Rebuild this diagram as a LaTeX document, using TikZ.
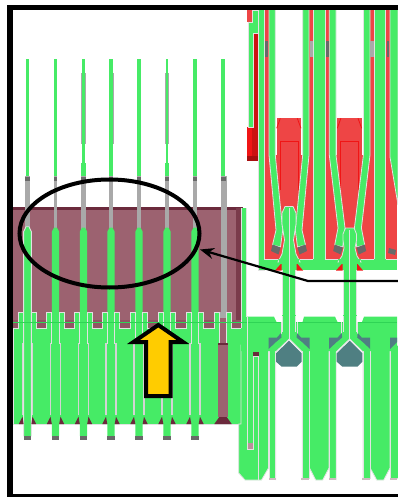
\documentclass[tikz,border=0pt]{standalone}
\usepackage{xcolor}
\usetikzlibrary{arrows.meta}
\definecolor{pingreen}{HTML}{46EB66}
\definecolor{darkgreen}{HTML}{2FD455}
\definecolor{moldmaroon}{HTML}{9C6270}
\definecolor{darkmaroon}{HTML}{6B2A3C}
\definecolor{redzone}{HTML}{EE4545}
\definecolor{redline}{HTML}{F01515}
\definecolor{headteal}{HTML}{4F7F82}
\definecolor{slotgray}{HTML}{E2E2E2}
\definecolor{pingray}{HTML}{A9A9A9}
\definecolor{tipgray}{HTML}{696969}
\definecolor{goldarrow}{HTML}{FFCC00}
\tikzset{
	green part/.style={fill=pingreen},
	outlined part/.style={fill=pingreen,draw=slotgray,line width=0.8pt},
	slot line/.style={draw=slotgray,line width=0.9pt},
	soft slot/.style={draw=slotgray!85!gray,line width=1.2pt},
	gray part/.style={fill=pingray},
	tip part/.style={fill=tipgray},
	dark part/.style={fill=darkmaroon},
	red part/.style={fill=redzone},
	red mark/.style={draw=redline,line width=0.8pt},
	teal part/.style={fill=headteal},
	thick ring/.style={draw=black,line width=4pt},
	callout line/.style={draw=black,line width=2.2pt,->,>={Stealth[length=14pt,width=11pt]}},
	up arrow/.style={fill=goldarrow,draw=black,line width=4pt,miter limit=10},
	frame line/.style={draw=black,line width=5.2pt}
}
\begin{document}
\begin{tikzpicture}[x=1pt,y=-1pt]
	\useasboundingbox (0,0) rectangle (397,497) ;
	% mold block
	\fill[moldmaroon] (13,207) rectangle (241,330) ;
	\fill[darkmaroon] (13,207) rectangle (243,210) ;
	\fill[darkmaroon!70!moldmaroon] (235.5,208) rectangle (241,320) ;
	\fill[darkmaroon!25!moldmaroon] (13,320) rectangle (241,330) ;
	% thin upper pins
	\fill[green part] (26.3,59) rectangle (28.7,176) ;
	\fill[green part] (53.6,59) rectangle (57.2,176) ;
	\fill[gray part] (81.2,73) rectangle (85.6,144) ;
	\fill[green part] (82,59) rectangle (84.6,176) ;
	\fill[green part] (81,163) rectangle (85.6,176) ;
	\fill[gray part] (112.8,73) rectangle (114,144) ;
	\fill[green part] (109.2,59) rectangle (112.8,176) ;
	\fill[green part] (109,163) rectangle (113.4,176) ;
	\fill[green part] (137.2,59) rectangle (140.8,176) ;
	\fill[gray part] (164.8,73) rectangle (169.2,144) ;
	\fill[green part] (165.6,59) rectangle (168.2,176) ;
	\fill[green part] (164.6,163) rectangle (169.2,176) ;
	\fill[green part] (193.2,59) rectangle (196.8,176) ;
	\fill[green part] (221.2,59) rectangle (225,176) ;
	% gray stems
	\fill[gray part] (25.3,176) rectangle (30,232) ;
	\fill[gray part] (53.6,176) rectangle (57.2,232) ;
	\fill[gray part] (81.2,176) rectangle (85.6,232) ;
	\fill[gray part] (109,176) rectangle (113.4,232) ;
	\fill[gray part] (137.2,176) rectangle (140.8,232) ;
	\fill[gray part] (164.8,176) rectangle (169.2,232) ;
	\fill[gray part] (193.2,176) rectangle (196.8,232) ;
	\fill[gray part] (220.5,176) rectangle (226.7,312) ;
	\fill[tip part] (25.3,176.5) rectangle (30,181) ;
	\fill[tip part] (53.6,176.5) rectangle (57.2,181) ;
	\fill[tip part] (81.2,176.5) rectangle (85.6,181) ;
	\fill[tip part] (109,176.5) rectangle (113.4,181) ;
	\fill[tip part] (137.2,176.5) rectangle (140.8,181) ;
	\fill[tip part] (164.8,176.5) rectangle (169.2,181) ;
	\fill[tip part] (193.2,176.5) rectangle (196.8,181) ;
	\fill[tip part] (220.5,176.5) rectangle (225.5,181) ;
	% toothed block
	\draw[outlined part] (13,328) -- (18.8,328) -- (18.8,312) -- (23.8,312) -- (23.8,322) -- (31.2,322) -- (31.2,312) -- (36.2,312) -- (36.2,328)
		-- (46.8,328) -- (46.8,312) -- (51.8,312) -- (51.8,322) -- (59.2,322) -- (59.2,312) -- (64.2,312) -- (64.2,328)
		-- (74.8,328) -- (74.8,312) -- (79.8,312) -- (79.8,322) -- (87.2,322) -- (87.2,312) -- (92.2,312) -- (92.2,328)
		-- (102.3,328) -- (102.3,312) -- (107.3,312) -- (107.3,322) -- (114.7,322) -- (114.7,312) -- (119.7,312) -- (119.7,328)
		-- (130.3,328) -- (130.3,312) -- (135.3,312) -- (135.3,322) -- (142.7,322) -- (142.7,312) -- (147.7,312) -- (147.7,328)
		-- (158.3,328) -- (158.3,312) -- (163.3,312) -- (163.3,322) -- (170.7,322) -- (170.7,312) -- (175.7,312) -- (175.7,328)
		-- (186.3,328) -- (186.3,312) -- (191.3,312) -- (191.3,322) -- (198.7,322) -- (198.7,312) -- (203.7,312) -- (203.7,328)
		-- (214.3,328) -- (214.3,312) -- (219.3,312) -- (219.3,322) -- (226.7,322) -- (226.7,312) -- (231.7,312) -- (231.7,328)
		-- (241,328) -- (241,424) -- (13,424) -- cycle ;
	\fill[white] (12,424.5) rectangle (238,426) ;
	% green pins
	\fill[green part] (23.6,231.7) -- (26,226.7) -- (29,226.7) -- (31.4,231.7) -- (31.4,436) -- (23.6,436) -- cycle ;
	\draw[slot line] (23.6,436) -- (23.6,231.7) -- (26,226.7) -- (29,226.7) -- (31.4,231.7) -- (31.4,436) ;
	\fill[green part] (51.8,231.7) -- (54,227.7) -- (57,227.7) -- (59.2,231.7) -- (59.2,436) -- (51.8,436) -- cycle ;
	\fill[green part] (79.8,231.7) -- (82,227.7) -- (85,227.7) -- (87.2,231.7) -- (87.2,436) -- (79.8,436) -- cycle ;
	\fill[green part] (107.3,231.7) -- (109.5,227.7) -- (112.5,227.7) -- (114.7,231.7) -- (114.7,436) -- (107.3,436) -- cycle ;
	\fill[green part] (135.3,231.7) -- (137.5,227.7) -- (140.5,227.7) -- (142.7,231.7) -- (142.7,436) -- (135.3,436) -- cycle ;
	\fill[green part] (163.3,231.7) -- (165.5,227.7) -- (168.5,227.7) -- (170.7,231.7) -- (170.7,436) -- (163.3,436) -- cycle ;
	\fill[green part] (191.3,231.7) -- (193.5,227.7) -- (196.5,227.7) -- (198.7,231.7) -- (198.7,436) -- (191.3,436) -- cycle ;
	% pin tips
	\fill[tip part] (24,436) rectangle (30.7,440) ;
	\fill[tip part] (51.8,436) rectangle (59.2,440) ;
	\fill[tip part] (79.8,436) rectangle (87.2,440) ;
	\fill[tip part] (107.3,436) rectangle (114.7,440) ;
	\fill[tip part] (135.3,436) rectangle (142.7,440) ;
	\fill[tip part] (163.3,436) rectangle (170.7,440) ;
	\fill[tip part] (191.3,436) rectangle (198.7,440) ;
	% slots around the pins
	\draw[slot line] (51.8,312) -- (51.8,343) -- (50.5,343) ; \draw[slot line] (59.2,312) -- (59.2,343) -- (60.5,343) ;
	\draw[slot line] (79.8,312) -- (79.8,343) -- (78.5,343) ; \draw[slot line] (87.2,312) -- (87.2,343) -- (88.5,343) ;
	\draw[slot line] (107.3,312) -- (107.3,343) -- (106,343) ; \draw[slot line] (114.7,312) -- (114.7,343) -- (116,343) ;
	\draw[slot line] (135.3,312) -- (135.3,343) -- (134,343) ; \draw[slot line] (142.7,312) -- (142.7,343) -- (144,343) ;
	\draw[slot line] (163.3,312) -- (163.3,343) -- (162,343) ; \draw[slot line] (170.7,312) -- (170.7,343) -- (172,343) ;
	\draw[slot line] (191.3,312) -- (191.3,343) -- (190,343) ; \draw[slot line] (198.7,312) -- (198.7,343) -- (200,343) ;
	\draw[soft slot] (22.5,343) -- (22.5,415) ; \draw[soft slot] (32.5,343) -- (32.5,415) ;
	\draw[soft slot] (50.5,343) -- (50.5,415) ; \draw[soft slot] (60.5,343) -- (60.5,415) ;
	\draw[soft slot] (78.5,343) -- (78.5,415) ; \draw[soft slot] (88.5,343) -- (88.5,415) ;
	\draw[soft slot] (106,343) -- (106,415) ; \draw[soft slot] (116,343) -- (116,415) ;
	\draw[soft slot] (134,343) -- (134,415) ; \draw[soft slot] (144,343) -- (144,415) ;
	\draw[soft slot] (162,343) -- (162,415) ; \draw[soft slot] (172,343) -- (172,415) ;
	\draw[soft slot] (190,343) -- (190,415) ; \draw[soft slot] (200,343) -- (200,415) ;
	% small dark feet
	\fill[dark part] (18.8,424) -- (22.5,416.5) -- (23.6,424) -- cycle ; \fill[dark part] (31.4,424) -- (32.5,416.5) -- (36.2,424) -- cycle ;
	\fill[dark part] (46.8,424) -- (50.5,416.5) -- (51.8,424) -- cycle ; \fill[dark part] (59.2,424) -- (60.5,416.5) -- (64.2,424) -- cycle ;
	\fill[dark part] (74.8,424) -- (78.5,416.5) -- (79.8,424) -- cycle ; \fill[dark part] (87.2,424) -- (88.5,416.5) -- (92.2,424) -- cycle ;
	\fill[dark part] (102.3,424) -- (106,416.5) -- (107.3,424) -- cycle ; \fill[dark part] (114.7,424) -- (116,416.5) -- (119.7,424) -- cycle ;
	\fill[dark part] (130.3,424) -- (134,416.5) -- (135.3,424) -- cycle ; \fill[dark part] (142.7,424) -- (144,416.5) -- (147.7,424) -- cycle ;
	\fill[dark part] (158.3,424) -- (162,416.5) -- (163.3,424) -- cycle ; \fill[dark part] (170.7,424) -- (172,416.5) -- (175.7,424) -- cycle ;
	\fill[dark part] (186.3,424) -- (190,416.5) -- (191.3,424) -- cycle ; \fill[dark part] (198.7,424) -- (200,416.5) -- (203.7,424) -- cycle ;
	% last pin, still in the mold colour
	\fill[moldmaroon] (219.3,312) rectangle (226.7,343) ;
	\fill[gray part] (219.3,312) rectangle (226.7,318) ;
	\fill[moldmaroon] (218,343) rectangle (228,417) ;
	\fill[dark part] (218,343) rectangle (228,345) ;
	\fill[dark part] (219.3,417) -- (226.7,417) -- (231.7,424) -- (214.3,424) -- cycle ;
	\draw[slot line] (219.3,312) -- (219.3,343) ; \draw[slot line] (226.7,312) -- (226.7,343) ;
	\draw[darkgreen,line width=1.2pt] (13,322.7) -- (397,322.7) ;
	% upper right: strip beside the red column
	\fill[red part] (247,10) rectangle (252.3,22) ;
	\fill[redline] (247,127) rectangle (258.3,161) ;
	\fill[redline!85!black] (252.3,127) rectangle (258.3,161) ;
	\fill[redline!70!black] (247,156) rectangle (258.3,161) ;
	\fill[redline!85!black] (254,33.5) rectangle (258.3,127) ;
	\draw[outlined part] (252.3,10) -- (258.3,10) -- (258.3,33.5) -- (253.3,33.5) -- (253.3,127) -- (248.3,127) -- (248.3,22) -- (252.3,22) -- cycle ;
	% red zone and its windows
	\fill[red part] (264,10) rectangle (397,259) ;
	\fill[white] (275.3,10) rectangle (302.7,155) ;
	\fill[white] (336,10) rectangle (363.4,155) ;
	\fill[red part] (276.7,118.3) rectangle (301,259) ;
	\fill[red part] (337.3,118.3) rectangle (361.7,259) ;
	\draw[red mark] (280.3,190) -- (280.3,141) -- (298.3,141) -- (298.3,190) ;
	\draw[red mark] (276.7,128.3) -- (280.3,118.3) ; \draw[red mark] (301,128.3) -- (297.3,118.3) ;
	\draw[red mark] (340.7,190) -- (340.7,141) -- (358.7,141) -- (358.7,190) ;
	\draw[red mark] (337.3,128.3) -- (340.9,118.3) ; \draw[red mark] (361.7,128.3) -- (358,118.3) ;
	% columns and fingers
	\draw[outlined part] (258.3,9) rectangle (264,270) ;
	\draw[outlined part] (313.3,9) rectangle (325,262) ;
	\draw[outlined part] (374,9) rectangle (385.7,262) ;
	\draw[outlined part] (269,9) -- (275.3,9) -- (275.3,155) -- (282.7,230) -- (280.5,247) -- (272.5,245) -- (276,230) -- (269,155) -- cycle ;
	\draw[outlined part] (309,9) -- (302.7,9) -- (302.7,155) -- (295.3,230) -- (297.5,247) -- (305.5,245) -- (302,230) -- (309,155) -- cycle ;
	\draw[outlined part] (329.3,9) -- (336,9) -- (336,155) -- (345,228) -- (342.7,247) -- (334.7,245) -- (338,228) -- (329.3,155) -- cycle ;
	\draw[outlined part] (370,9) -- (363.4,9) -- (363.4,155) -- (354.4,228) -- (356.7,247) -- (364.7,245) -- (361.4,228) -- (370,155) -- cycle ;
	\draw[outlined part] (390,9) -- (398,9) -- (398,205) -- (390,157) -- cycle ;
	% small gray inserts
	\fill[tip part] (265.3,40.7) rectangle (268.3,57.3) ;
	\fill[gray part] (310,40.7) rectangle (313.3,57.3) ;
	\fill[tip part] (326,40.7) rectangle (328.7,57.3) ;
	\fill[gray part] (370.3,40.7) rectangle (373.6,57.3) ;
	\fill[tip part] (386.7,40.7) rectangle (389.3,57.3) ;
	\fill[tip part] (272.5,244.5) -- (280.5,247.5) -- (278.5,254.5) -- (271,251) -- cycle ;
	\fill[tip part] (305.5,244.5) -- (297.5,247.5) -- (299.5,254.5) -- (307,251) -- cycle ;
	\fill[tip part] (334.7,244.5) -- (342.7,247.5) -- (340.7,254.5) -- (333.2,251) -- cycle ;
	\fill[tip part] (364.7,244.5) -- (356.7,247.5) -- (358.7,254.5) -- (366.2,251) -- cycle ;
	\fill[tip part] (389,248) -- (396,250) -- (395,255) -- (388,253) -- cycle ;
	% band under the red zone
	\fill[green part] (264,259) rectangle (397,270) ;
	\draw[slot line] (264,259) -- (278,259) ; \draw[slot line] (300,259) -- (313.3,259) ;
	\draw[slot line] (325,259) -- (338,259) ; \draw[slot line] (361,259) -- (374,259) ;
	\draw[slot line] (385.7,259) -- (397,259) ;
	\fill[redline] (275,270.5) -- (281.7,263) -- (281.7,270.5) -- cycle ;
	\fill[redline] (296.7,263) -- (303,270.5) -- (296.7,270.5) -- cycle ;
	\fill[redline] (336,270.5) -- (342.7,263) -- (342.7,270.5) -- cycle ;
	\fill[redline] (356.7,263) -- (363,270.5) -- (356.7,270.5) -- cycle ;
	% pin heads and necks
	\draw[outlined part] (282,213) -- (285,206.5) -- (293,206.5) -- (296,213) -- (296,224) -- (293.5,240) -- (296,254) -- (300,262) -- (278,262) -- (282,254) -- (284.5,240) -- (282,224) -- cycle ;
	\draw[outlined part] (343,234) -- (345.5,228) -- (354,228) -- (356.5,234) -- (356.5,240) -- (355,248) -- (357,256) -- (361,262) -- (338,262) -- (342,256) -- (344,248) -- (343,240) -- cycle ;
	\fill[green part] (279,259) rectangle (299,264) ;
	\fill[green part] (339,259) rectangle (360,264) ;
	\fill[green part] (282.3,262) rectangle (295.7,340) ;
	\fill[green part] (343,262) rectangle (356.7,340) ;
	\draw[slot line] (282.3,270) -- (282.3,330) ; \draw[slot line] (295.7,270) -- (295.7,330) ;
	\draw[slot line] (343,270) -- (343,330) ; \draw[slot line] (356.7,270) -- (356.7,330) ;
	% lower right blocks and legs
	\draw[outlined part] (241,345) -- (268.5,345) -- (268.5,468) -- (261.5,480) -- (245,480) -- (238.7,473) -- (238.7,424) -- (241,424) -- cycle ;
	\draw[outlined part] (309.5,345) -- (329,345) -- (329,468) -- (322.7,480) -- (315.7,480) -- (309.5,468) -- cycle ;
	\draw[outlined part] (370.2,345) -- (390,345) -- (390,468) -- (383.7,480) -- (376.7,480) -- (370.2,468) -- cycle ;
	\draw[outlined part] (269,345) rectangle (275.7,478) ;
	\draw[outlined part] (302.3,345) rectangle (309,478) ;
	\draw[outlined part] (329.5,345) rectangle (336,478) ;
	\draw[outlined part] (363,345) rectangle (370,478) ;
	\draw[outlined part] (390.3,345) rectangle (398,478) ;
	\fill[green part] (241,208) -- (246.7,208) -- (246.7,316.7) -- (274,316.7) -- (276.5,322) -- (302.5,322) -- (304,316.7) -- (335,316.7) -- (337.5,322) -- (362,322) -- (364,316.7) -- (397,316.7) -- (397,351) -- (241,351) -- cycle ;
	\draw[slot line] (241,208) -- (241,328) ; \draw[slot line] (246.7,208) -- (246.7,316.7) ;
	\draw[darkgreen,line width=1.2pt] (241,322.7) -- (397,322.7) ;
	\fill[green part] (282.3,315) rectangle (295.7,340) ;
	\fill[green part] (343,315) rectangle (356.7,340) ;
	\draw[slot line] (289.3,208) -- (289.3,339) ; \draw[slot line] (349.7,230) -- (349.7,339) ;
	\draw[slot line] (282.3,316) -- (282.3,332) ; \draw[slot line] (295.7,316) -- (295.7,332) ;
	\draw[slot line] (343,316) -- (343,332) ; \draw[slot line] (356.7,316) -- (356.7,332) ;
	\draw[slot line] (281,322) -- (281,334) ; \draw[slot line] (297,322) -- (297,334) ;
	\draw[slot line] (341.7,322) -- (341.7,334) ; \draw[slot line] (357.7,322) -- (357.7,334) ;
	% cavities under the necks
	\draw[slot line,fill=white] (275.7,480) -- (275.7,352) -- (289.3,339) -- (302.3,352) -- (302.3,480) ;
	\draw[slot line,fill=white] (336.2,480) -- (336.2,352) -- (349.7,339) -- (363,352) -- (363,480) ;
	\fill[teal part] (276,353.3) -- (289,340.7) -- (301.7,353.3) -- (301.7,361.7) -- (296.7,366.7) -- (281.7,366.7) -- (276,361.7) -- cycle ;
	\fill[teal part] (336.7,353.3) -- (349.7,340.7) -- (362.4,353.3) -- (362.4,361.7) -- (357.4,366.7) -- (342.4,366.7) -- (336.7,361.7) -- cycle ;
	\fill[teal part] (268.5,337.5) -- (277,337.5) -- (281,333) -- (281.5,337.5) -- (276,342) -- (268.5,349) -- cycle ;
	\fill[teal part] (309.5,337.5) -- (301,337.5) -- (297,333) -- (296.5,337.5) -- (302,342) -- (309.5,349) -- cycle ;
	\fill[teal part] (329.2,337.5) -- (337.7,337.5) -- (341.7,333) -- (342.2,337.5) -- (336.7,342) -- (329.2,349) -- cycle ;
	\fill[teal part] (370.2,337.5) -- (361.7,337.5) -- (357.7,333) -- (357.2,337.5) -- (362.7,342) -- (370.2,349) -- cycle ;
	\fill[teal part] (390,337.5) -- (397,337.5) -- (397,342) -- (390,349) -- cycle ;
	% leg ends and the two slots in the first block
	\fill[slotgray!70!moldmaroon] (268.8,477.7) rectangle (276,480) ;
	\fill[slotgray!70!moldmaroon] (301,477.7) rectangle (309,480) ;
	\fill[slotgray!70!moldmaroon] (329.3,477.7) rectangle (336,480) ;
	\fill[slotgray!70!moldmaroon] (362.3,477.7) rectangle (370,480) ;
	\fill[slotgray!70!moldmaroon] (390,477.7) rectangle (397,480) ;
	\draw[slot line] (247.7,317) -- (247.7,449.3) -- (253.3,449.3) -- (253.3,356) -- (258.7,356) -- (258.7,480) ;
	\fill[dark part] (253.3,351.7) rectangle (258.7,356) ;
	\fill[moldmaroon!70!white] (247.7,442.7) rectangle (253.3,449.3) ;
	% markings
	\draw[thick ring] (109.5,233.5) ellipse (90 and 54) ;
	\coordinate (calloutstart) at (399,281) ;
	\coordinate (calloutbend) at (308,281) ;
	\coordinate (callouttip) at (200,249.5) ;
	\draw[callout line] (calloutstart) -- (calloutbend) -- (callouttip) ;
	\draw[up arrow] (158.3,325) -- (133.5,342) -- (146.2,342) -- (146.2,396) -- (170.5,396) -- (170.5,342) -- (183,342) -- cycle ;
	\draw[frame line] (399,7.5) -- (10,7.5) -- (10,497) -- (399,497) ;
\end{tikzpicture}
\end{document}
